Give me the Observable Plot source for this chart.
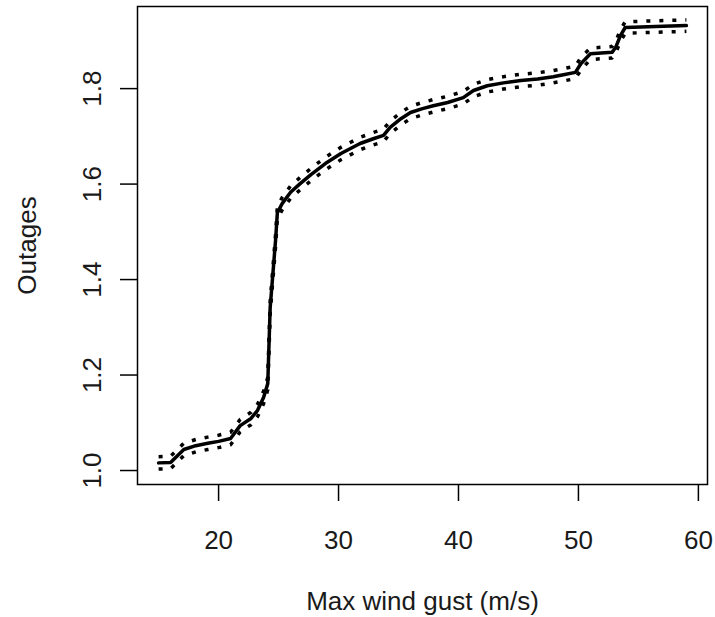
<!DOCTYPE html>
<html>
<head>
<meta charset="utf-8">
<script src="https://cdn.jsdelivr.net/npm/d3@7"></script>
<script src="https://cdn.jsdelivr.net/npm/@observablehq/plot@0.6"></script>
<style>
  html, body { margin: 0; padding: 0; background: #ffffff; }
  #chart svg { display: block; }
</style>
</head>
<body>
<div id="chart"></div>
<script>
// Max wind gust (m/s)
const gust = [15, 16, 17.1, 18.1, 19.1, 20, 21, 21.8, 22.7, 23.25, 23.75, 24.1, 24.3, 24.75, 24.9, 25.3, 26, 26.8, 27.7, 28.9, 30.2, 31.8, 32.9, 33.75, 34.3, 35.2, 36, 37, 37.9, 39.1, 40.4, 41.25, 42.4, 43.75, 45.2, 46.6, 47.9, 48.75, 49.75, 50.2, 51, 52.8, 53.1, 53.5, 53.9, 59];
// Fitted outages
const fit = [1.016, 1.017, 1.044, 1.052, 1.057, 1.061, 1.067, 1.094, 1.109, 1.126, 1.153, 1.182, 1.341, 1.482, 1.540, 1.559, 1.583, 1.601, 1.620, 1.643, 1.664, 1.685, 1.695, 1.702, 1.719, 1.737, 1.750, 1.758, 1.764, 1.771, 1.781, 1.796, 1.806, 1.812, 1.817, 1.820, 1.825, 1.829, 1.834, 1.852, 1.873, 1.876, 1.886, 1.911, 1.928, 1.932];
// Upper band
const upper = [1.029, 1.030, 1.057, 1.065, 1.070, 1.074, 1.080, 1.107, 1.122, 1.139, 1.166, 1.195, 1.354, 1.495, 1.553, 1.572, 1.596, 1.614, 1.633, 1.656, 1.677, 1.698, 1.708, 1.715, 1.732, 1.750, 1.763, 1.771, 1.777, 1.784, 1.794, 1.809, 1.819, 1.825, 1.830, 1.833, 1.838, 1.842, 1.847, 1.865, 1.885, 1.888, 1.898, 1.923, 1.940, 1.944];
// Lower band
const lower = [1.003, 1.004, 1.031, 1.039, 1.044, 1.048, 1.054, 1.081, 1.096, 1.113, 1.140, 1.169, 1.328, 1.469, 1.527, 1.546, 1.570, 1.588, 1.607, 1.630, 1.651, 1.672, 1.682, 1.689, 1.706, 1.724, 1.737, 1.745, 1.751, 1.758, 1.768, 1.783, 1.793, 1.799, 1.804, 1.807, 1.812, 1.816, 1.821, 1.839, 1.861, 1.864, 1.874, 1.899, 1.916, 1.920];

const xTicks = [20, 30, 40, 50, 60];
const yTicks = [1.0, 1.2, 1.4, 1.6, 1.8];
const xTitle = "Max wind gust (m/s)";
const yTitle = "Outages";

const rows = gust.map((g, i) => ({gust: g, fit: fit[i], upper: upper[i], lower: lower[i]}));

const font = "Liberation Sans, Arial, sans-serif";
const fs = 26;

const chart = Plot.plot({
  width: 715,
  height: 617,
  marginLeft: 137,
  marginRight: 8,
  marginTop: 6,
  marginBottom: 133,
  style: {fontFamily: font, fontSize: fs + "px", background: "#ffffff", color: "#1a1a1a"},
  x: {domain: [13.24, 60.76]},
  y: {domain: [0.9707, 1.972]},
  marks: [
    Plot.frame({stroke: "#000", strokeWidth: 1.5}),
    Plot.axisX({ticks: xTicks, tickSize: 17, tickPadding: 29, tickFormat: d => String(d), fontSize: fs, label: null, stroke: "#000", strokeWidth: 1.5}),
    Plot.axisY({ticks: yTicks, tickSize: 17, tickFormat: () => "", label: null, stroke: "#000", strokeWidth: 1.5}),
    Plot.text(yTicks, {y: d => d, text: d => d.toFixed(1), frameAnchor: "left", dx: -45, rotate: -90, fontSize: fs, lineAnchor: "middle", textAnchor: "middle", fill: "#1a1a1a"}),
    Plot.text([yTitle], {frameAnchor: "left", dx: -110, rotate: -90, fontSize: fs, lineAnchor: "middle", textAnchor: "middle", fill: "#1a1a1a"}),
    Plot.text([xTitle], {frameAnchor: "bottom", dy: 117, fontSize: fs, lineAnchor: "middle", textAnchor: "middle", fill: "#1a1a1a"}),
    Plot.line(rows, {x: "gust", y: "upper", stroke: "#000", strokeWidth: 3.5, strokeDasharray: "4,9", strokeLinecap: "butt"}),
    Plot.line(rows, {x: "gust", y: "lower", stroke: "#000", strokeWidth: 3.5, strokeDasharray: "4,9", strokeLinecap: "butt"}),
    Plot.line(rows, {x: "gust", y: "fit", stroke: "#000", strokeWidth: 3.5})
  ]
});
document.getElementById("chart").appendChild(chart);
</script>
</body>
</html>
